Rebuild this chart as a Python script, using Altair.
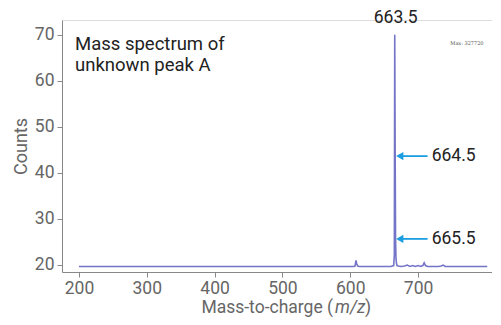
import altair as alt
import pandas as pd

# Spectrum trace (m/z vs counts)
mz = [200, 300, 400, 500, 580, 600, 605, 607, 608.5, 609.5, 611, 613, 630, 650, 660, 664,
      665, 665.6, 666.2, 666.8, 667.4, 668.2, 669, 671, 675, 680, 684, 688, 692, 696,
      700, 704, 707, 709, 711, 714, 720, 730, 734, 737, 740, 750, 770, 790, 802]
counts = [19.6, 19.6, 19.6, 19.6, 19.6, 19.6, 19.6, 19.7, 20.9, 20.2, 19.7, 19.6, 19.6, 19.6, 19.6, 19.8,
          22.0, 70.0, 45.0, 25.6, 21.5, 20.2, 19.8, 19.7, 19.6, 19.7, 19.9, 19.6, 19.8, 19.6,
          19.8, 19.6, 19.8, 20.4, 19.8, 19.6, 19.6, 19.6, 19.7, 19.9, 19.6, 19.6, 19.6, 19.6, 19.6]

x_ticks = [200, 300, 400, 500, 600, 700]
y_ticks = [20, 30, 40, 50, 60, 70]

peak_label = ["663.5"]
arrow_labels = ["664.5", "665.5"]
arrow_y = [43.6, 25.6]

FONT = "Roboto"
XDOM = [175, 809]
YDOM = [18.4, 73.2]
FS = 17.5

spec = pd.DataFrame({"mz": mz, "counts": counts})
xs = alt.Scale(domain=XDOM, nice=False, zero=False)
ys = alt.Scale(domain=YDOM, nice=False, zero=False)

line = alt.Chart(spec).mark_line(color="#7474c8", strokeWidth=1.6).encode(
    x=alt.X("mz:Q", scale=xs,
            axis=alt.Axis(values=x_ticks, title=None, grid=False, labelFontSize=FS,
                          labelColor="#666666", labelFont=FONT, tickColor="#888888",
                          domainColor="#888888", tickSize=5, labelPadding=2)),
    y=alt.Y("counts:Q", scale=ys,
            axis=alt.Axis(values=y_ticks, title="Counts", grid=False, labelFontSize=FS,
                          labelColor="#666666", labelFont=FONT, tickColor="#888888",
                          domainColor="#888888", tickSize=5, labelPadding=3,
                          titleFontSize=18, titleColor="#666666", titleFont=FONT,
                          titleFontWeight="normal", titlePadding=4)),
)

# Peak label
pk = pd.DataFrame({"mz": [667], "counts": [73.6], "t": peak_label})
peak_text = alt.Chart(pk).mark_text(fontSize=FS, font=FONT, color="#222222",
                                    baseline="middle", align="center").encode(
    x=alt.X("mz:Q", scale=xs), y=alt.Y("counts:Q", scale=ys), text="t:N")

# Arrows
ar = pd.DataFrame({"x1": [673, 673], "x2": [714, 714], "y": arrow_y,
                   "tx": [720, 720], "t": arrow_labels})
arrow_shaft = alt.Chart(ar).mark_rule(color="#1a9ee0", strokeWidth=1.8).encode(
    x=alt.X("x1:Q", scale=xs), x2="x2:Q", y=alt.Y("y:Q", scale=ys))
arrow_head = alt.Chart(ar).mark_point(shape="triangle-left", filled=True, color="#1a9ee0",
                                      size=70, opacity=1).encode(
    x=alt.X("x1:Q", scale=xs), y=alt.Y("y:Q", scale=ys))
arrow_text = alt.Chart(ar).mark_text(fontSize=FS, font=FONT, color="#222222",
                                     align="left", baseline="middle").encode(
    x=alt.X("tx:Q", scale=xs), y=alt.Y("y:Q", scale=ys), text="t:N")

# Max label
mx = pd.DataFrame({"mz": [772], "counts": [68.3], "t": ["Max:  327720"]})
max_text = alt.Chart(mx).mark_text(fontSize=5, font="DejaVu Serif", color="#555555",
                                   align="center", baseline="middle").encode(
    x=alt.X("mz:Q", scale=xs), y=alt.Y("counts:Q", scale=ys), text="t:N")

# Title annotation
title_text = alt.Chart(pd.DataFrame({"t": ["Mass spectrum of\nunknown peak A"]})).mark_text(
    fontSize=18.5, font=FONT, color="#222222", align="left", baseline="middle",
    lineBreak="\n", lineHeight=21).encode(
    x=alt.value(13), y=alt.value(24), text="t:N")

# X axis title with italic m/z
TY = 288
xt1 = alt.Chart(pd.DataFrame({"t": ["Mass-to-charge ("]})).mark_text(
    fontSize=FS, font=FONT, color="#666666", align="right", baseline="middle").encode(
    x=alt.value(271), y=alt.value(TY), text="t:N")
xt2 = alt.Chart(pd.DataFrame({"t": ["m/z"]})).mark_text(
    fontSize=FS, font=FONT, color="#666666", align="left", baseline="middle",
    fontStyle="italic").encode(
    x=alt.value(273), y=alt.value(TY), text="t:N")
xt3 = alt.Chart(pd.DataFrame({"t": [")"]})).mark_text(
    fontSize=FS, font=FONT, color="#666666", align="left", baseline="middle").encode(
    x=alt.value(303), y=alt.value(TY), text="t:N")

chart = alt.layer(line, peak_text, arrow_shaft, arrow_head, arrow_text, max_text,
                  title_text, xt1, xt2, xt3).properties(
    width=430, height=252,
    autosize=alt.AutoSizeParams(type="none"),
    padding={"left": 54, "top": 12, "right": 0, "bottom": 45},
).configure_view(stroke=None).configure(background="white")

chart.save("out.html", embed_options={"renderer": "svg", "actions": False})
